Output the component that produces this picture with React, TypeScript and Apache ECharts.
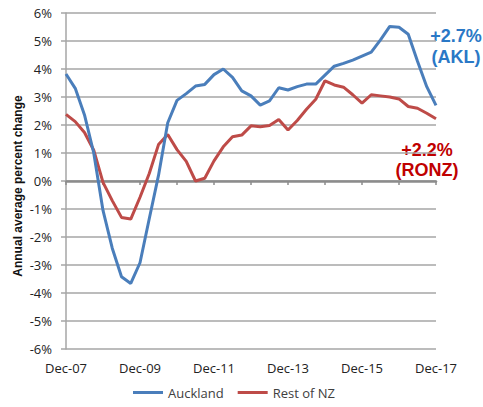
import React, { useEffect, useRef } from "react";
import * as echarts from "echarts";

const categories = [
  "Dec-07", "Mar-08", "Jun-08", "Sep-08",
  "Dec-08", "Mar-09", "Jun-09", "Sep-09",
  "Dec-09", "Mar-10", "Jun-10", "Sep-10",
  "Dec-10", "Mar-11", "Jun-11", "Sep-11",
  "Dec-11", "Mar-12", "Jun-12", "Sep-12",
  "Dec-12", "Mar-13", "Jun-13", "Sep-13",
  "Dec-13", "Mar-14", "Jun-14", "Sep-14",
  "Dec-14", "Mar-15", "Jun-15", "Sep-15",
  "Dec-15", "Mar-16", "Jun-16", "Sep-16",
  "Dec-16", "Mar-17", "Jun-17", "Sep-17",
  "Dec-17",
];

const auckland = [
  3.82, 3.31, 2.36, 1.0,
  -1.05, -2.4, -3.42, -3.66,
  -2.92, -1.35, 0.2, 2.08,
  2.88, 3.12, 3.39, 3.45,
  3.8, 4.0, 3.7, 3.22,
  3.04, 2.71, 2.86, 3.33,
  3.25, 3.37, 3.46, 3.46,
  3.78, 4.1, 4.2, 4.32,
  4.46, 4.6, 5.04, 5.52,
  5.49, 5.24, 4.28, 3.37,
  2.7,
];

const restOfNZ = [
  2.38, 2.12, 1.73, 1.1,
  -0.05, -0.7, -1.3, -1.36,
  -0.58, 0.27, 1.3, 1.66,
  1.12, 0.7, 0.0, 0.1,
  0.72, 1.22, 1.58, 1.64,
  1.97, 1.94, 1.98, 2.2,
  1.82, 2.16, 2.56, 2.92,
  3.58, 3.43, 3.35, 3.08,
  2.78, 3.08, 3.04, 3.0,
  2.93, 2.66, 2.6, 2.42,
  2.22,
];

const seriesNames = ["Auckland", "Rest of NZ"];
const yTitle = "Annual average percent change";
const aklNote = ["+2.7%", "(AKL)"];
const ronzNote = ["+2.2%", "(RONZ)"];

const BLUE = "#4a7ebb";
const RED = "#be4b48";
const FONT = "'Open Sans', 'Liberation Sans', sans-serif";

export default function App() {
  const ref = useRef<HTMLDivElement>(null);

  useEffect(() => {
    document.body.style.margin = "0";
    if (!ref.current) return;
    const chart = echarts.init(ref.current, null, { renderer: "svg" });
    chart.setOption({
      animation: false,
      backgroundColor: "#ffffff",
      grid: { left: 66, right: 47, top: 13, bottom: 58, containLabel: false },
      legend: {
        data: seriesNames,
        left: 133,
        top: 386,
        padding: 0,
        icon: "rect",
        itemWidth: 30,
        itemHeight: 3,
        itemGap: 14,
        textStyle: { fontFamily: FONT, fontSize: 13, color: "#404040" },
      },
      xAxis: [
        {
          type: "category",
          data: categories,
          boundaryGap: false,
          position: "bottom",
          axisLine: { show: false, onZero: false },
          axisTick: { show: false },
          axisLabel: {
            interval: 7,
            margin: 12,
            fontFamily: FONT,
            fontSize: 13,
            color: "#222",
          },
          splitLine: { show: false },
        },
        {
          type: "category",
          data: categories,
          boundaryGap: false,
          position: "top",
          axisLine: { show: true, onZero: true, lineStyle: { color: "#8c8c8c", width: 2.5 } },
          axisTick: {
            show: true,
            interval: 3,
            inside: true,
            length: 4,
            lineStyle: { color: "#8c8c8c", width: 1.5 },
          },
          axisLabel: { show: false },
          splitLine: { show: false },
        },
      ],
      yAxis: {
        type: "value",
        min: -6,
        max: 6,
        interval: 1,
        axisLine: { show: true, lineStyle: { color: "#a6a6a6", width: 1.5 } },
        axisTick: { show: true, length: 5, lineStyle: { color: "#a6a6a6", width: 1.5 } },
        axisLabel: {
          margin: 14,
          fontFamily: FONT,
          fontSize: 13,
          color: "#222",
          formatter: (v: number) => `${v}%`,
        },
        splitLine: { show: true, lineStyle: { color: "#a6a6a6", width: 1.5 } },
      },
      series: [
        {
          name: seriesNames[0],
          type: "line",
          data: auckland,
          xAxisIndex: 0,
          symbol: "none",
          lineStyle: { color: BLUE, width: 3 },
          itemStyle: { color: BLUE },
          z: 3,
        },
        {
          name: seriesNames[1],
          type: "line",
          data: restOfNZ,
          xAxisIndex: 0,
          symbol: "none",
          lineStyle: { color: RED, width: 3 },
          itemStyle: { color: RED },
          z: 2,
        },
      ],
      graphic: [
        {
          type: "text",
          x: 17.5,
          y: 186,
          rotation: Math.PI / 2,
          style: {
            text: yTitle,
            fontFamily: "'Liberation Sans', sans-serif",
            fontWeight: "bold",
            fontSize: 12,
            fill: "#111",
            align: "center",
            verticalAlign: "middle",
          },
        },
        {
          type: "text",
          x: 456,
          y: 25,
          style: {
            text: aklNote.join("\n"),
            fontFamily: "'Liberation Sans', sans-serif",
            fontWeight: "bold",
            fontSize: 18,
            lineHeight: 21,
            fill: "#2a78c6",
            align: "center",
            verticalAlign: "top",
          },
        },
        {
          type: "text",
          x: 427,
          y: 140,
          style: {
            text: ronzNote.join("\n"),
            fontFamily: "'Liberation Sans', sans-serif",
            fontWeight: "bold",
            fontSize: 18,
            lineHeight: 20,
            fill: "#c00000",
            align: "center",
            verticalAlign: "top",
          },
        },
      ],
    });
    return () => chart.dispose();
  }, []);

  return <div ref={ref} style={{ width: 483, height: 407 }} />;
}
